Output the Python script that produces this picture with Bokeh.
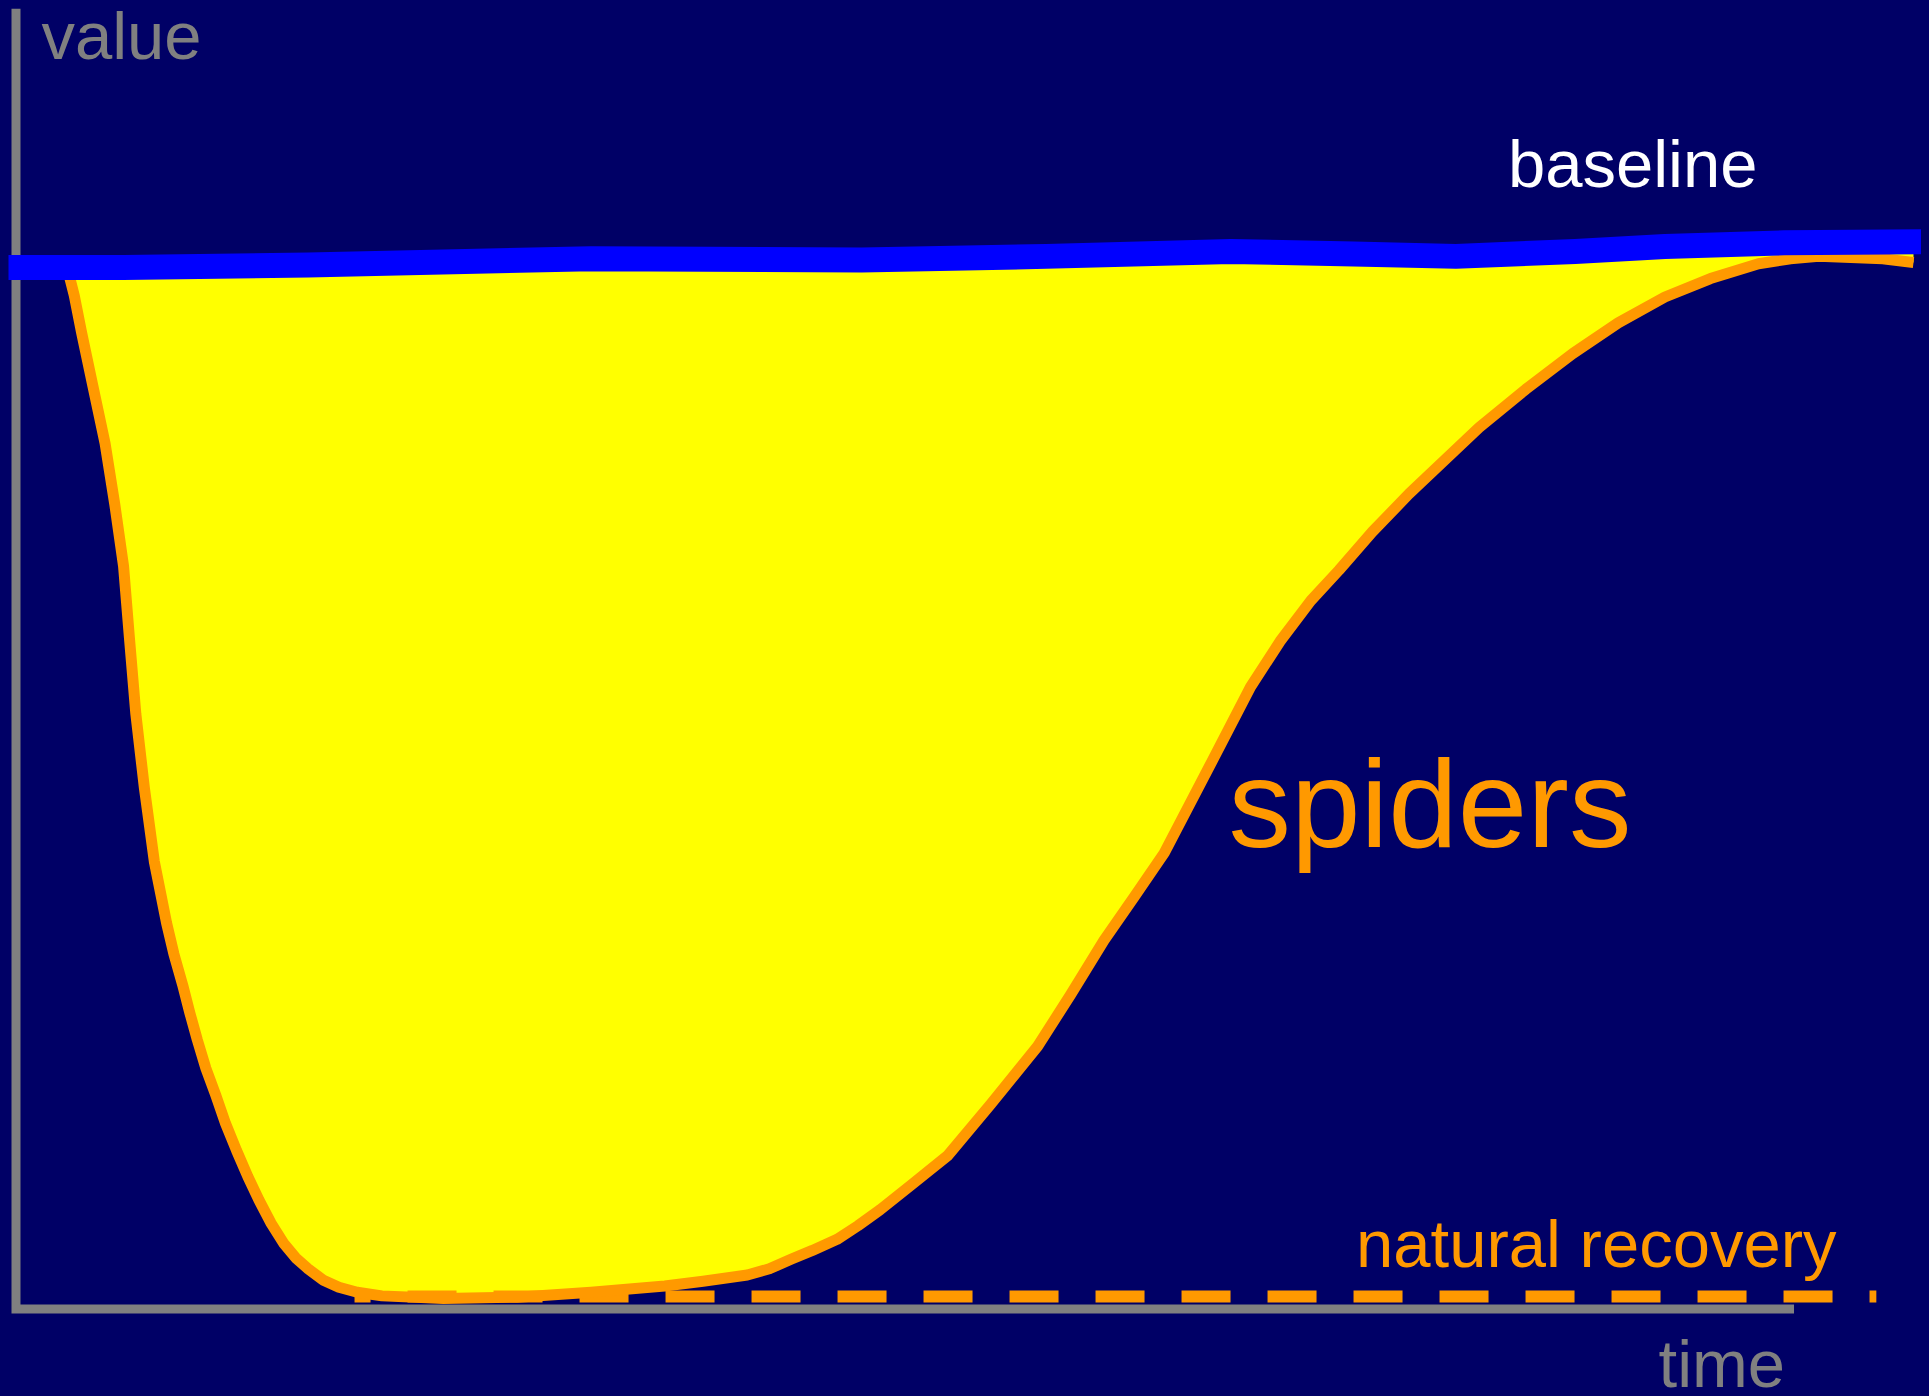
import numpy as np
from bokeh.plotting import figure
from bokeh.models import Range1d
from bokeh.core.properties import value
from bokeh.embed import file_html
from bokeh.resources import INLINE

# ---- data (time on x, value on y) ----
spiders_t = [2.93, 3.28, 3.69, 4.32, 5.01, 5.56, 6.05, 6.39, 6.74, 7.22, 7.78, 8.47,
             8.88, 9.37, 9.78, 10.20, 10.68, 11.24, 11.79, 12.41, 13.04, 13.66,
             14.35, 15.04, 15.73, 16.43, 17.26, 18.16, 19.19, 20.58, 24.04,
             28.19, 32.34, 36.49, 38.64, 41.13, 42.37, 43.62, 44.79, 46.18, 47.35,
             48.60, 50.33, 52.40, 54.83, 57.46, 59.32, 61.19, 62.92, 64.58, 67.21,
             69.43, 71.09, 72.82, 74.41, 76.28, 78.35, 82.29, 84.92, 87.55, 90.11,
             92.74, 95.30, 98.00, 99.80, 101.39, 104.99, 106.72]
spiders_v = [98.84, 96.50, 92.99, 87.95, 82.44, 76.58, 70.73, 63.70, 56.67, 49.64,
             42.61, 36.75, 33.82, 30.89, 28.19, 25.62, 22.92, 20.35, 17.65, 15.07,
             12.61, 10.39, 8.16, 6.29, 4.88, 3.83, 2.77, 2.07, 1.60, 1.25, 1.01,
             1.13, 1.60, 2.19, 2.65, 3.24, 3.83, 4.76, 5.58, 6.64, 7.93,
             9.45, 11.79, 14.61, 19.53, 25.03, 29.95, 35.11, 39.33, 43.43, 51.98,
             59.24, 63.58, 67.45, 70.37, 74.01, 77.64, 83.96, 87.60, 90.99, 93.92,
             96.38, 98.14, 99.55, 100.02, 100.25, 100.02, 99.66]

baseline_t = [-0.57, 6.05, 16.43, 32.34, 47.56, 57.94, 68.32, 75.24, 80.98, 87.69,
              92.74, 99.45, 107.62]
baseline_v = [99.20, 99.20, 99.43, 100.02, 99.90, 100.25, 100.72, 100.48, 100.25,
              100.72, 101.19, 101.54, 101.66]

recovery_t = [19.04, 104.63]
recovery_v = [1.19, 1.19]

axis_t = [0, 0, 100]
axis_v = [123.86, 0, 0]

labels = ["value", "time", "baseline", "spiders", "natural recovery"]

BG = "#000066"
ORANGE = "#FF9900"
GRAY = "#808080"

p = figure(width=1913, height=1380,
           x_range=Range1d(-0.4218, 107.17), y_range=Range1d(-7.571, 123.857),
           x_axis_type=None, y_axis_type=None, toolbar_location=None,
           output_backend="svg", min_border=0,
           background_fill_color=BG, border_fill_color=BG, outline_line_color=None)

# yellow area between baseline and the spiders curve
top = np.interp(spiders_t, baseline_t, baseline_v)
fill_x = list(spiders_t) + list(spiders_t[::-1])
fill_y = list(spiders_v) + list(top[::-1])
p.patch(fill_x, fill_y, fill_color="#FFFF00", line_color=None)

# axes
p.line(axis_t, axis_v, line_color=GRAY, line_width=9, line_join="miter")

# natural recovery dashed line
p.line(recovery_t, recovery_v, line_color=ORANGE, line_width=12,
       line_dash="49 37", line_dash_offset=33)

# spiders curve
p.line(spiders_t, spiders_v, line_color=ORANGE, line_width=11, line_join="round")

# baseline
p.line(baseline_t, baseline_v, line_color="#0000FF", line_width=25, line_join="round")

font = value("Liberation Sans")
small = value("67px")
p.text(x=[1.43], y=[119.0], text=[labels[0]], text_font=font,
       text_font_size=small, text_color=GRAY, y_offset=-24,
       text_baseline="alphabetic", text_align="left")
p.text(x=[92.38], y=[-7.5], text=[labels[1]], text_font=font,
       text_font_size=small, text_color=GRAY, y_offset=-24,
       text_baseline="alphabetic", text_align="left")
p.text(x=[83.91], y=[106.81], text=[labels[2]], text_font=font,
       text_font_size=small, text_color="#FFFFFF", y_offset=-24,
       text_baseline="alphabetic", text_align="left")
p.text(x=[68.19], y=[43.86], text=[labels[3]], text_font=font,
       text_font_size=value("125px"), text_color=ORANGE, y_offset=-45,
       text_baseline="alphabetic", text_align="left")
p.text(x=[75.37], y=[3.95], text=[labels[4]], text_font=font,
       text_font_size=small, text_color=ORANGE, y_offset=-24,
       text_baseline="alphabetic", text_align="left")

html = file_html(p, INLINE, title="spiders")
style = ("<style>html,body{background:%s;overflow:hidden}"
         "body{margin:8px;padding:0}</style>" % BG)
html = html.replace("</head>", style + "</head>", 1)
open("out.html", "w").write(html)
